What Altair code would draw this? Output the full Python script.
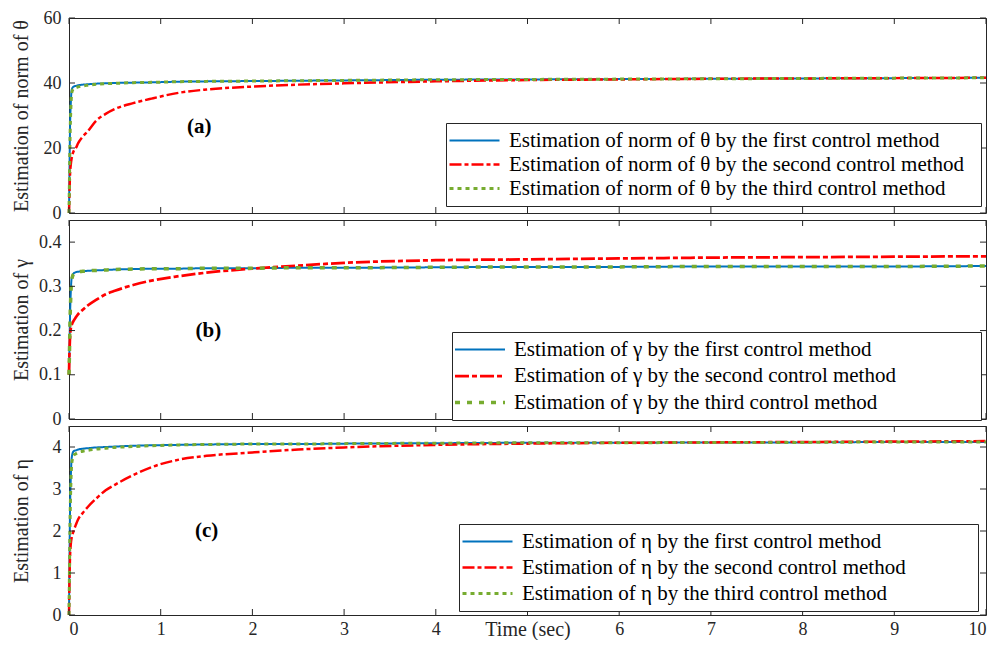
import altair as alt
import pandas as pd
import math

FONT = "Liberation Serif"
INK = "#262626"

# ---------------- data ----------------
t = [0, 0.005, 0.01, 0.02, 0.03, 0.05, 0.075, 0.1, 0.15, 0.2, 0.3, 0.4, 0.5,
     0.7, 0.9, 1.2, 1.5, 2, 2.5, 3, 4, 5, 6, 7, 8, 9, 10]

theta_first = [0, 12, 24, 34, 38, 38.9, 39.1, 39.3, 39.5, 39.6, 39.8, 39.9, 40.0,
               40.1, 40.2, 40.4, 40.5, 40.6, 40.7, 40.8, 41.0, 41.1, 41.2, 41.3, 41.4, 41.5, 41.6]
theta_second = [0, 6, 11, 15, 17, 19, 20, 21.5, 23.5, 25, 28.5, 30.5, 32,
                33.8, 35.2, 37.0, 38.0, 38.9, 39.5, 39.9, 40.5, 40.9, 41.1, 41.3, 41.4, 41.5, 41.6]
theta_third = [0, 10, 21, 32, 37, 38.3, 38.6, 38.8, 39.1, 39.3, 39.6, 39.8, 39.9,
               40.1, 40.2, 40.4, 40.5, 40.6, 40.7, 40.8, 41.0, 41.1, 41.2, 41.3, 41.4, 41.5, 41.6]

gamma_first = [0.1, 0.16, 0.22, 0.29, 0.32, 0.329, 0.332, 0.333, 0.334, 0.335, 0.336, 0.337, 0.338,
               0.339, 0.340, 0.340, 0.341, 0.341, 0.342, 0.342, 0.343, 0.344, 0.344, 0.345, 0.345, 0.345, 0.346]
gamma_second = [0.1, 0.15, 0.18, 0.205, 0.213, 0.222, 0.23, 0.237, 0.247, 0.256, 0.27, 0.282, 0.29,
                0.303, 0.313, 0.323, 0.331, 0.340, 0.347, 0.353, 0.359, 0.361, 0.363, 0.365, 0.366, 0.367, 0.368]
gamma_third = [0.1, 0.15, 0.21, 0.28, 0.315, 0.328, 0.331, 0.333, 0.334, 0.335, 0.336, 0.337, 0.338,
               0.339, 0.340, 0.340, 0.341, 0.341, 0.342, 0.342, 0.343, 0.344, 0.344, 0.345, 0.345, 0.345, 0.346]

eta_first = [0, 1.2, 2.3, 3.3, 3.75, 3.9, 3.92, 3.94, 3.96, 3.97, 3.99, 4.0, 4.01,
             4.03, 4.04, 4.05, 4.06, 4.07, 4.07, 4.08, 4.09, 4.10, 4.10, 4.11, 4.11, 4.12, 4.12]
eta_second = [0, 0.8, 1.3, 1.7, 1.85, 2.0, 2.15, 2.28, 2.43, 2.56, 2.78, 2.97, 3.1,
              3.33, 3.52, 3.70, 3.79, 3.87, 3.94, 3.99, 4.05, 4.08, 4.10, 4.11, 4.12, 4.13, 4.14]
eta_third = [0, 1.0, 2.0, 3.1, 3.6, 3.8, 3.84, 3.87, 3.9, 3.92, 3.95, 3.97, 3.99,
             4.01, 4.03, 4.05, 4.06, 4.07, 4.07, 4.08, 4.09, 4.10, 4.10, 4.11, 4.11, 4.12, 4.12]

theta_names = ["Estimation of norm of θ  by the first control method",
               "Estimation of norm of θ  by the second control method",
               "Estimation of norm of θ  by the third control method"]
gamma_names = ["Estimation of  γ  by the first control method",
               "Estimation of  γ  by the second control method",
               "Estimation of  γ  by the third control method"]
eta_names = ["Estimation of  η  by the first control method",
             "Estimation of  η  by the second control method",
             "Estimation of  η  by the third control method"]

x_ticks = [0, 1, 2, 3, 4, 5, 6, 7, 8, 9, 10]
theta_ticks = [0, 20, 40, 60]
gamma_ticks = [0, 0.1, 0.2, 0.3, 0.4]
eta_ticks = [0, 1, 2, 3, 4]

panel_labels = ["(a)", "(b)", "(c)"]
panel_label_t = [1.42, 1.52, 1.50]
panel_label_v = [26.5, 0.2, 2.0]

colors = ["#0072BD", "#FF0000", "#77AC30"]

W = 917
SYM_LEN = 50.0
SYM_S = SYM_LEN / 5.0        # custom path "M-5,0H5" spans 10 units = 5 * sqrt(size)
SYM_SIZE = SYM_S ** 2


def long_df(names, series):
    rows = []
    for name, vals in zip(names, series):
        for ti, vi in zip(t, vals):
            rows.append({"t": ti, "v": vi, "s": name})
    return pd.DataFrame(rows)


def panel(names, series, ydom, yticks, yfmt, H, ytitle, lx, ly, lab_i, bottom,
          dashes, widths, row_pad, right_gap):
    df = long_df(names, series)
    xs = alt.Scale(domain=[0, 10], nice=False, zero=False)
    ys = alt.Scale(domain=ydom, nice=False, zero=False)

    if bottom:
        xaxis = alt.Axis(values=x_ticks, format="d", ticks=False, domain=False, grid=False,
                         labelPadding=5, labelExpr="datum.value == 5 ? '' : datum.label",
                         title="Time (sec)", titleFontSize=20,
                         titleY=4, titleBaseline="top")
    else:
        xaxis = alt.Axis(values=x_ticks, ticks=False, domain=False, grid=False,
                         labels=False, title=None)
    yaxis = alt.Axis(values=yticks, format=yfmt, ticks=False, domain=False, grid=False,
                     labelExpr="datum.value == 0 ? '0' : datum.label",
                     labelPadding=8, title=ytitle, titleFontSize=20,
                     titleX=-48, titleBaseline="middle")

    w0 = math.ceil(SYM_S + max(widths))
    base_off = SYM_LEN / 2 - w0 / 2
    sym_off = base_off - 7
    lab_off = SYM_LEN + 6 - w0 - base_off
    legend = alt.Legend(orient="none", legendX=lx, legendY=ly,
                        title="\u00a0", titleOrient="right", titleFontSize=1,
                        titlePadding=right_gap,
                        symbolType="M-5,0H5", symbolSize=SYM_SIZE,
                        symbolOffset=sym_off,
                        labelFont=FONT, labelFontSize=21, labelColor="black",
                        labelLimit=0, padding=7, strokeColor=INK, fillColor="white",
                        rowPadding=row_pad, labelOffset=lab_off)

    lines = alt.Chart(df).mark_line(interpolate="monotone").encode(
        x=alt.X("t:Q", scale=xs, axis=xaxis),
        y=alt.Y("v:Q", scale=ys, axis=yaxis),
        color=alt.Color("s:N", scale=alt.Scale(domain=names, range=colors), legend=legend),
        strokeDash=alt.StrokeDash("s:N", scale=alt.Scale(domain=names, range=dashes), legend=legend),
        strokeWidth=alt.StrokeWidth("s:N", scale=alt.Scale(domain=names, range=widths), legend=legend),
        order=alt.Order("t:Q"),
    )

    xt = pd.DataFrame({"t": x_ticks})
    yt = pd.DataFrame({"v": yticks})
    tick_style = dict(color=INK, strokeWidth=1)
    top_ticks = alt.Chart(xt).mark_rule(**tick_style).encode(
        x=alt.X("t:Q", scale=xs), y=alt.value(0), y2=alt.value(6))
    bot_ticks = alt.Chart(xt).mark_rule(**tick_style).encode(
        x=alt.X("t:Q", scale=xs), y=alt.value(H - 6), y2=alt.value(H))
    left_ticks = alt.Chart(yt).mark_rule(**tick_style).encode(
        y=alt.Y("v:Q", scale=ys), x=alt.value(0), x2=alt.value(6))
    right_ticks = alt.Chart(yt).mark_rule(**tick_style).encode(
        y=alt.Y("v:Q", scale=ys), x=alt.value(W - 6), x2=alt.value(W))

    lab = pd.DataFrame({"t": [panel_label_t[lab_i]], "v": [panel_label_v[lab_i]],
                        "txt": [panel_labels[lab_i]]})
    label = alt.Chart(lab).mark_text(font=FONT, fontSize=21, fontWeight="bold",
                                     color="black").encode(
        x=alt.X("t:Q", scale=xs), y=alt.Y("v:Q", scale=ys), text="txt:N")

    return alt.layer(lines, top_ticks, bot_ticks, left_ticks, right_ticks, label).properties(
        width=W, height=H)


pa = panel(theta_names, [theta_first, theta_second, theta_third], [0, 60], theta_ticks, "d",
           195, "Estimation of norm of θ", 377, 105, 0, False,
           [[1, 0], [12, 3, 4, 3], [4, 4]], [2, 3, 4], 2, 5)
pb = panel(gamma_names, [gamma_first, gamma_second, gamma_third], [0, 0.45], gamma_ticks, ".1f",
           199, "Estimation of γ", 383, 112, 1, False,
           [[1, 0], [14, 3, 5, 3], [5, 7]], [2, 3.5, 5], 4.5, 68)
pc = panel(eta_names, [eta_first, eta_second, eta_third], [0, 4.5], eta_ticks, "d",
           189, "Estimation of η", 390, 98, 2, True,
           [[1, 0], [12, 3, 4, 3], [4, 4]], [2, 3, 4], 4, 55)

chart = alt.vconcat(pa, pb, pc, spacing=7, bounds="flush").resolve_scale(
    color="independent", strokeDash="independent", strokeWidth="independent"
).resolve_legend(
    color="independent", strokeDash="independent", strokeWidth="independent"
).properties(
    padding={"left": 2, "top": 0, "right": 0, "bottom": 0},
    background="white"
).configure_axis(
    labelFont=FONT, labelFontSize=18, labelColor=INK,
    titleFont=FONT, titleFontWeight="normal", titleColor=INK
).configure_view(stroke=INK, strokeWidth=1)

chart.save("out.html", embed_options={"renderer": "svg", "actions": False})
